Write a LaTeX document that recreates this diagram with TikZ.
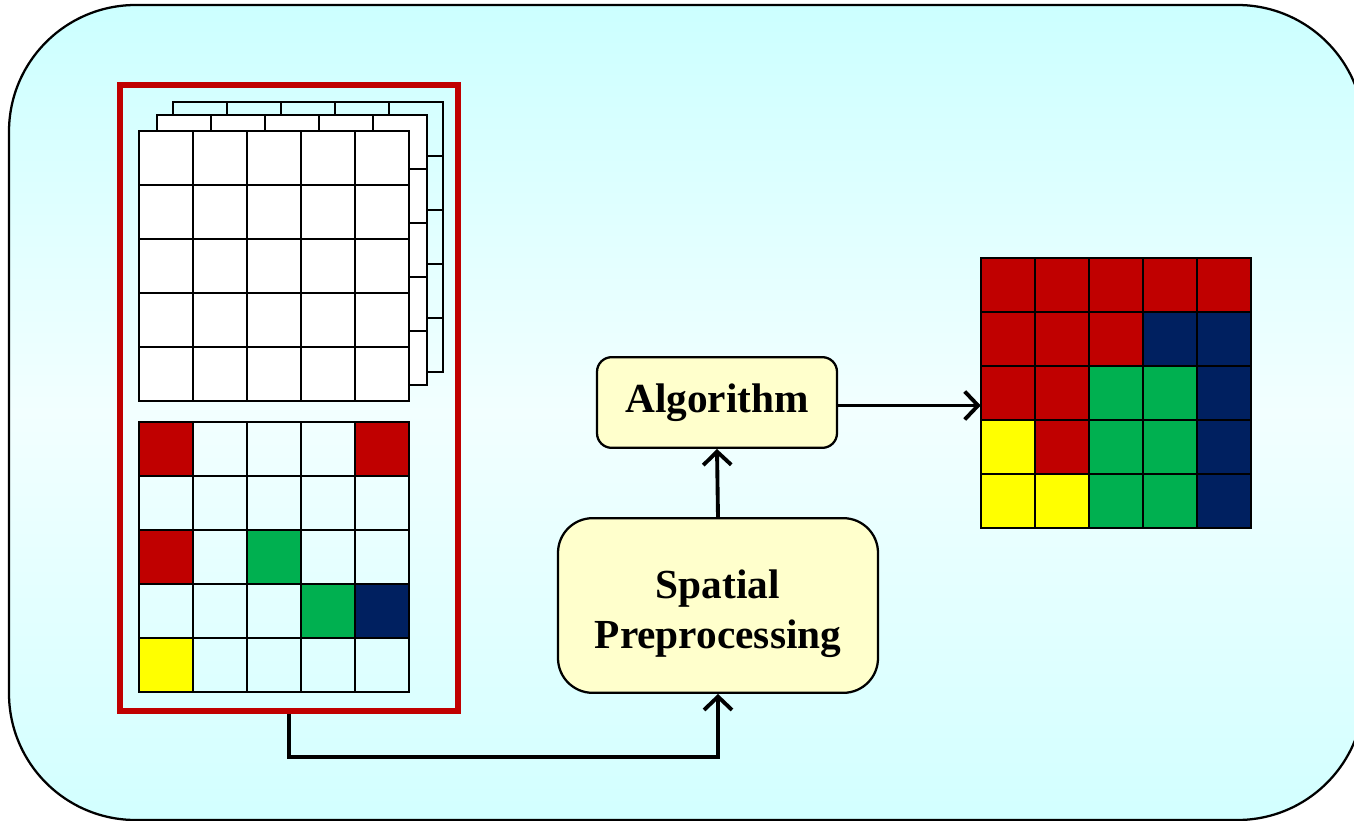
\documentclass[tikz,border=0pt]{standalone}
\usepackage{fontspec}
\setmainfont{Liberation Serif}
\usetikzlibrary{arrows.meta,calc}
\definecolor{cred}{HTML}{C00000}
\definecolor{cnavy}{HTML}{002060}
\definecolor{cgreen}{HTML}{00B050}
\definecolor{cyel}{HTML}{FFFF00}
\definecolor{boxfill}{HTML}{FFFFCC}
\definecolor{bgtop}{HTML}{CCFFFF}
\definecolor{bgmid}{HTML}{F2FFFF}
\definecolor{bgbot}{HTML}{D2FFFF}
\newcommand\gridlayer[3]{%
  \fill[#3] (#1,#2) rectangle ++(270,270);
  \foreach \i in {1,...,4}{%
    \draw[gridline] ({#1+54*\i},#2) -- ({#1+54*\i},{#2+270});
    \draw[gridline] (#1,{#2+54*\i}) -- ({#1+270},{#2+54*\i});
  }
  \draw[gridline] (#1,#2) rectangle ++(270,270);
}
\begin{document}
\begin{tikzpicture}[x=0.75pt,y=-0.75pt,
  gridline/.style={draw=black,line width=2pt},
  procbox/.style={draw=black,line width=1.7pt,fill=boxfill,align=center,inner sep=0pt,
    font=\bfseries\fontsize{31}{37}\selectfont},
  arr/.style={line width=2.9pt,-{Straight Barb[length=10pt,width=21pt,line width=2.9pt]}}]
\useasboundingbox (0,0) rectangle (1354,821);
\begin{scope}
  \clip (0,0) rectangle (1354,821);
  \draw[line width=1.7pt,rounded corners=95pt,top color=bgtop,bottom color=bgbot,middle color=bgmid] (9,5) rectangle (1364,820);
\end{scope}

% input stack
\node[draw=cred,line width=4pt,minimum width=253.5pt,minimum height=469.5pt,inner sep=0pt] (inbox) at (289,398) {};
\gridlayer{173}{102}{fill opacity=0}
\gridlayer{157}{115}{white}
\gridlayer{139}{131}{white}

% labelled sample grid
\foreach \c/\r/\col in {0/0/cred,4/0/cred,0/2/cred,2/2/cgreen,3/3/cgreen,4/3/cnavy,0/4/cyel}{
  \fill[\col] ({139+54*\c},{422+54*\r}) rectangle ++(54,54);
}
\gridlayer{139}{422}{fill opacity=0}

% output grid
\node[minimum width=202.5pt,minimum height=202.5pt,inner sep=0pt] (outgrid) at (1116,393) {};
\foreach \rowcols [count=\r from 0] in {{cred,cred,cred,cred,cred},{cred,cred,cred,cnavy,cnavy},{cred,cred,cgreen,cgreen,cnavy},{cyel,cred,cgreen,cgreen,cnavy},{cyel,cyel,cgreen,cgreen,cnavy}}{
  \foreach \col [count=\c from 0] in \rowcols {
    \fill[\col] ({981+54*\c},{258+54*\r}) rectangle ++(54,54);
  }
}
\gridlayer{981}{258}{fill opacity=0}

% process boxes
\node[procbox,rounded corners=11pt,minimum width=180pt,minimum height=68pt] (alg) at (717,402.5) {Algorithm};
\node[procbox,rounded corners=26pt,minimum width=240pt,minimum height=131pt] (sp) at (718,605.5)
  {\raisebox{-6pt}[\height][\depth]{\begin{tabular}{@{}c@{}}Spatial\\[0pt]Preprocessing\end{tabular}}};

% connectors
\coordinate (bend) at (718,757);
\coordinate (astart) at ($(alg.east)+(0,3)$);
\coordinate (aend) at (astart -| outgrid.west);
\draw[arr] (inbox.south) |- (bend) -- (sp.south);
\draw[arr] (sp.north) -- (alg.south);
\draw[arr] (astart) -- (aend);
\end{tikzpicture}
\end{document}
